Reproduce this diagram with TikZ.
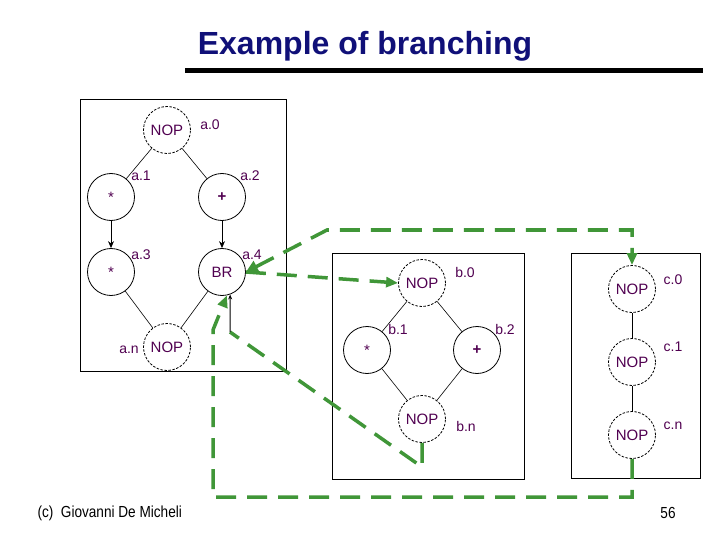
\documentclass[tikz,border=0pt]{standalone}
\usepackage{fontspec}
\setmainfont{Liberation Sans}
\newfontfamily\narrowfont[FakeStretch=0.85]{Liberation Sans}
\usetikzlibrary{arrows.meta}
\definecolor{titleblue}{RGB}{16,16,120}
\definecolor{oppurple}{RGB}{80,0,80}
\definecolor{brgreen}{RGB}{64,150,56}

\begin{document}
\begin{tikzpicture}[x=1pt,y=-1pt]
	\tikzset{op/.style={draw,circle,line width=0.8pt,minimum size=47pt,inner sep=0pt,text=oppurple,font=\fontsize{15}{15}\selectfont},
		nop/.style={op,dash pattern=on 2.5pt off 1.5pt},
		lbl/.style={text=oppurple,font=\fontsize{14}{14}\selectfont},
		edge/.style={line width=0.6pt},
		dep/.style={line width=1pt,-{Stealth[length=7pt,width=6pt]}},
		branch/.style={brgreen,line width=3.5pt,dash pattern=on 20pt off 11pt}}
	
	\useasboundingbox (0,0) rectangle (720,540);
	
	% Title and rule
	\node[text=titleblue,font=\bfseries\fontsize{32}{32}\selectfont] (title) at (365,46) {Example of branching};
	\draw[line width=5pt] (185,71) -- (703,71);
	
	% Boxes
	\draw[line width=0.8pt] (80,99) rectangle (286,371);
	\draw[line width=0.8pt] (332,253) rectangle (524,479);
	\draw[line width=0.8pt] (571,253) rectangle (700,478);
	
	% Graph a
	\node[nop] (a0) at (167,130) {NOP};
	\node[op] (a1) at (111,197) {*};
	\node[op] (a2) at (222,197) {\textbf{+}};
	\node[op] (a3) at (111,272) {*};
	\node[op] (a4) at (222,272) {BR};
	\node[nop] (an) at (167,347) {NOP};
	\node[lbl] (la0) at (210,125) {a.0};
	\node[lbl] (la1) at (141,176) {a.1};
	\node[lbl] (la2) at (250,176) {a.2};
	\node[lbl] (la3) at (141,255) {a.3};
	\node[lbl] (la4) at (252,255) {a.4};
	\node[lbl] (lan) at (129,350) {a.n};
	\draw[edge] (a0) -- (a1);
	\draw[edge] (a0) -- (a2);
	\draw[dep] (a1) -- (a3);
	\draw[dep] (a2) -- (a4);
	\draw[edge] (a3) -- (an);
	\draw[edge] (a4) -- (an);
	
	% Graph b
	\node[nop] (b0) at (422,283) {NOP};
	\node[op] (b1) at (367,350) {*};
	\node[op] (b2) at (477,350) {\textbf{+}};
	\node[nop] (bn) at (422,419) {NOP};
	\node[lbl] (lb0) at (465,272) {b.0};
	\node[lbl] (lb1) at (398,329) {b.1};
	\node[lbl] (lb2) at (505,329) {b.2};
	\node[lbl] (lbn) at (466,426) {b.n};
	\draw[edge] (b0) -- (b1);
	\draw[edge] (b0) -- (b2);
	\draw[edge] (b1) -- (bn);
	\draw[edge] (b2) -- (bn);
	
	% Graph c
	\node[nop] (c0) at (632,289) {NOP};
	\node[nop] (c1) at (632,362) {NOP};
	\node[nop] (cn) at (632,435) {NOP};
	\node[lbl] (lc0) at (673,280) {c.0};
	\node[lbl] (lc1) at (673,347) {c.1};
	\node[lbl] (lcn) at (673,426) {c.n};
	\draw[edge] (c0) -- (c1);
	\draw[edge] (c1) -- (cn);
	
	% Branch links
	\coordinate (up) at (327,230);
	\coordinate (bturn) at (422,467);
	\coordinate (bend) at (230,332);
	\coordinate (cturn) at (632,497);
	\coordinate (cend) at (213,330);
	\draw[branch,{Triangle[length=12pt,width=12pt]}-{Triangle[length=12pt,width=10pt]}] (a4.east) -- (up) -| (c0.north);
	\draw[branch,-{Triangle[length=12pt,width=10pt]}] (a4.east) -- (b0.west);
	\draw[branch] (bn.south) -- (bturn) -- (bend);
	\draw[line width=1pt,-{Stealth[length=5pt,width=4pt]}] (bend) -- (a4.-70);
	\draw[branch,-{Triangle[length=12pt,width=10pt]}] (cn.south) -- (cturn) -| (cend) -- (a4.-78);
	
	% Footer
	\node[font=\narrowfont\fontsize{16}{16}\selectfont,anchor=west] (credit) at (34,513) {(c)\ \ Giovanni De Micheli};
	\node[font=\narrowfont\fontsize{16}{16}\selectfont] (page) at (668,513) {56};
\end{tikzpicture}
\end{document}
